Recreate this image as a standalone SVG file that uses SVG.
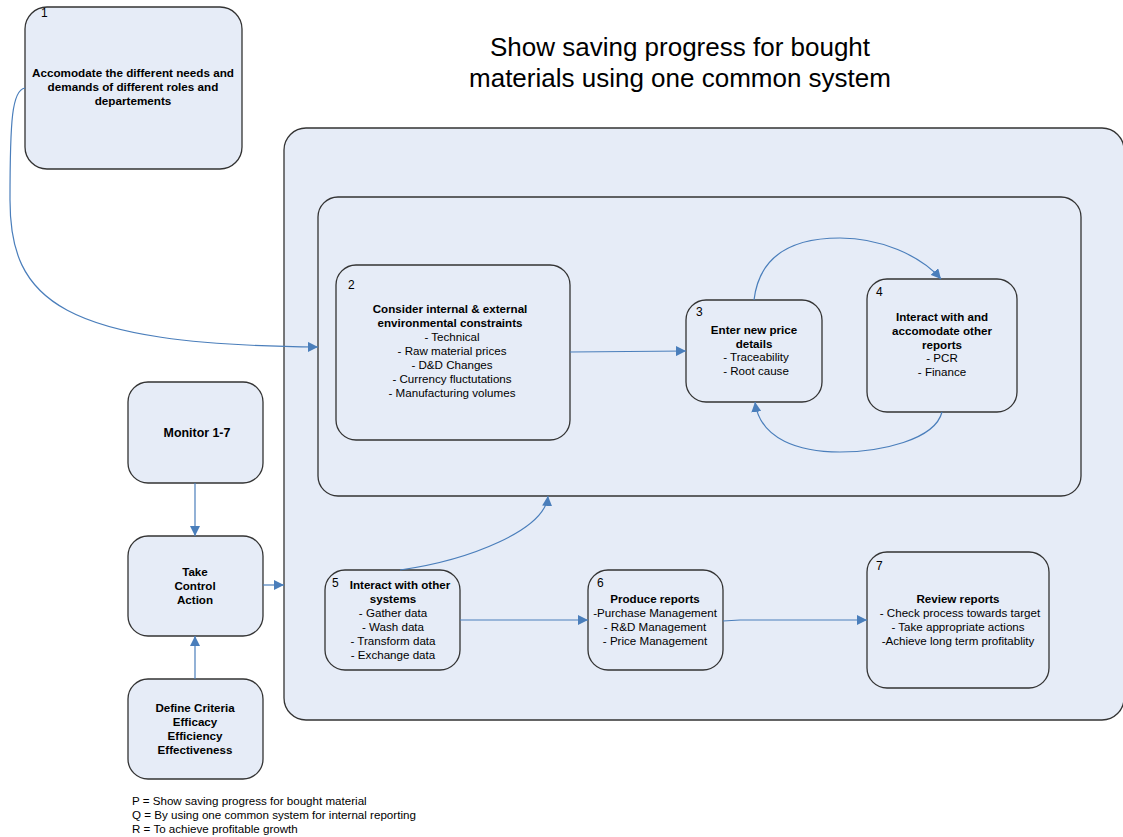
<svg xmlns="http://www.w3.org/2000/svg" width="1123" height="837" viewBox="0 0 1123 837">
<defs>
<style>
.box{fill:#E6ECF7;stroke:#333;stroke-width:1.3}
.t{font-family:"Liberation Sans",Arial,sans-serif;font-size:11.6px;fill:#000;text-anchor:middle}
.b{font-weight:bold;font-size:11.6px}
.b1{font-weight:bold;font-size:11.7px}
.n{font-family:"Liberation Sans",Arial,sans-serif;font-size:12px;fill:#000}
.c{fill:none;stroke:#4A7EBB;stroke-width:1.2}
.title{font-family:"Liberation Sans",Arial,sans-serif;font-size:26px;fill:#000;text-anchor:middle}
.leg{font-family:"Liberation Sans",Arial,sans-serif;font-size:11.6px;fill:#000}
</style>
<marker id="arr" viewBox="0 0 10 10" refX="10" refY="5" markerWidth="10" markerHeight="10" markerUnits="userSpaceOnUse" orient="auto">
<path d="M0,0 L10,5 L0,10 z" fill="#4A7EBB"/>
</marker>
</defs>
<rect width="1123" height="837" fill="#fff"/>

<g id="title">
<text class="title" x="680" y="56">Show saving progress for bought</text>
<text class="title" x="680" y="87">materials using one common system</text>
</g>

<g id="outer"><rect class="box" x="284" y="128" width="840" height="592" rx="22"/></g>
<g id="inner"><rect class="box" x="318" y="197" width="763" height="299" rx="20"/></g>

<g id="node1">
<rect class="box" x="25" y="7" width="217" height="162" rx="22"/>
<text class="n" x="41" y="17">1</text>
<text class="t b1" x="133" y="77">Accomodate the different needs and</text>
<text class="t b1" x="133" y="91">demands of different roles and</text>
<text class="t b1" x="133" y="105">departements</text>
</g>

<g id="node2">
<rect class="box" x="336" y="265" width="234" height="175" rx="20"/>
<text class="n" x="348" y="289">2</text>
<text class="t b" x="450" y="313">Consider internal &amp; external</text>
<text class="t b" x="450" y="327">environmental constraints</text>
<text class="t" x="452" y="341">- Technical</text>
<text class="t" x="452" y="355">- Raw material prices</text>
<text class="t" x="452" y="369">- D&amp;D Changes</text>
<text class="t" x="452" y="383">- Currency fluctutations</text>
<text class="t" x="452" y="397">- Manufacturing volumes</text>
</g>

<g id="node3">
<rect class="box" x="686" y="300" width="136" height="102" rx="20"/>
<text class="n" x="696" y="316">3</text>
<text class="t b" x="754" y="334">Enter new price</text>
<text class="t b" x="754" y="348">details</text>
<text class="t" x="756" y="361">- Traceability</text>
<text class="t" x="756" y="375">- Root cause</text>
</g>

<g id="node4">
<rect class="box" x="867" y="279" width="150" height="133" rx="20"/>
<text class="n" x="876" y="296">4</text>
<text class="t b" x="942" y="321">Interact with and</text>
<text class="t b" x="942" y="335">accomodate other</text>
<text class="t b" x="942" y="349">reports</text>
<text class="t" x="942" y="362">- PCR</text>
<text class="t" x="942" y="376">- Finance</text>
</g>

<g id="node5">
<rect class="box" x="325" y="570" width="135" height="100" rx="20"/>
<text class="n" x="332" y="587">5</text>
<text class="t b" x="400" y="589">Interact with other</text>
<text class="t b" x="393" y="603">systems</text>
<text class="t" x="393" y="617">- Gather data</text>
<text class="t" x="393" y="631">- Wash data</text>
<text class="t" x="393" y="645">- Transform data</text>
<text class="t" x="393" y="659">- Exchange data</text>
</g>

<g id="node6">
<rect class="box" x="588" y="570" width="135" height="100" rx="20"/>
<text class="n" x="597" y="587">6</text>
<text class="t b" x="655" y="603">Produce reports</text>
<text class="t" x="655" y="617">-Purchase Management</text>
<text class="t" x="655" y="631">- R&amp;D Management</text>
<text class="t" x="655" y="645">- Price Management</text>
</g>

<g id="node7">
<rect class="box" x="867" y="552" width="182" height="136" rx="20"/>
<text class="n" x="876" y="570">7</text>
<text class="t b" x="958" y="603">Review reports</text>
<text class="t" x="960" y="617">- Check process towards target</text>
<text class="t" x="958" y="631">- Take appropriate actions</text>
<text class="t" x="958" y="645">-Achieve long term profitablity</text>
</g>

<g id="monitor">
<rect class="box" x="128" y="382" width="135" height="101" rx="20"/>
<text class="t b" x="197" y="437" style="font-size:12.4px">Monitor 1-7</text>
</g>

<g id="control">
<rect class="box" x="128" y="536" width="135" height="100" rx="20"/>
<text class="t b" x="195" y="576">Take</text>
<text class="t b" x="195" y="590">Control</text>
<text class="t b" x="195" y="604">Action</text>
</g>

<g id="criteria">
<rect class="box" x="128" y="679" width="135" height="100" rx="20"/>
<text class="t b" x="195" y="712">Define Criteria</text>
<text class="t b" x="195" y="726">Efficacy</text>
<text class="t b" x="195" y="740">Efficiency</text>
<text class="t b" x="195" y="754">Effectiveness</text>
</g>

<g id="connectors">
<path class="c" d="M25,88 C12,90 10,120 10,200 C10,300 60,345 318,347" marker-end="url(#arr)"/>
<path class="c" d="M570,352 L686,351" marker-end="url(#arr)"/>
<path class="c" d="M754,300 C760,250 800,238 840,238 C880,238 920,255 941,279" marker-end="url(#arr)"/>
<path class="c" d="M942,412 C935,440 880,452 840,452 C800,452 760,440 755,402" marker-end="url(#arr)"/>
<path class="c" d="M400,570 C470,560 545,530 548,496" marker-end="url(#arr)"/>
<path class="c" d="M460,620 L588,620" marker-end="url(#arr)"/>
<path class="c" d="M723,621 L740,620 L867,620" marker-end="url(#arr)"/>
<path class="c" d="M195,483 L195,536" marker-end="url(#arr)"/>
<path class="c" d="M195,679 L195,636" marker-end="url(#arr)"/>
<path class="c" d="M263,585 L284,585" marker-end="url(#arr)"/>
</g>

<g id="legend">
<text class="leg" x="132" y="805">P = Show saving progress for bought material</text>
<text class="leg" x="132" y="819">Q = By using one common system for internal reporting</text>
<text class="leg" x="132" y="833">R = To achieve profitable growth</text>
</g>
</svg>
